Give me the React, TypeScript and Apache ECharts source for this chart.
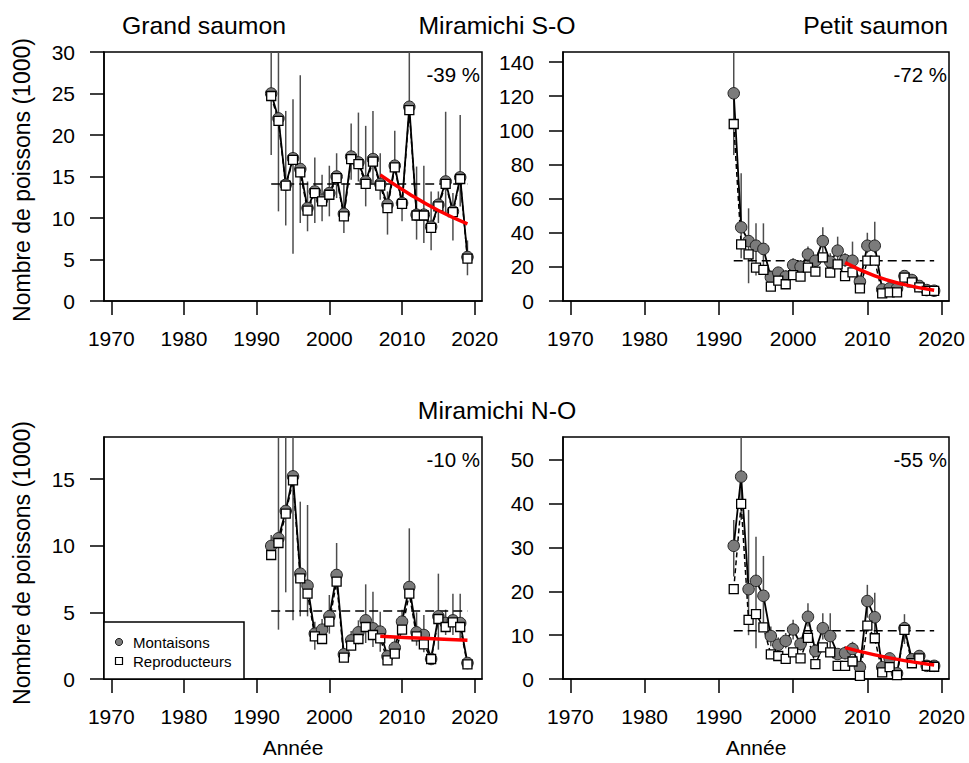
import React, { useEffect, useRef } from "react";
import * as echarts from "echarts";

const years = [1992, 1993, 1994, 1995, 1996, 1997, 1998, 1999, 2000, 2001, 2002, 2003, 2004, 2005, 2006, 2007, 2008, 2009, 2010, 2011, 2012, 2013, 2014, 2015, 2016, 2017, 2018, 2019];
const xTicks = [1970, 1980, 1990, 2000, 2010, 2020];

// Miramichi S-O, Grand saumon
const gsoMont = [25.0, 22.0, 14.0, 17.2, 15.9, 11.2, 13.2, 12.2, 13.0, 15.0, 10.5, 17.4, 16.7, 14.4, 17.1, 14.1, 11.6, 16.3, 11.8, 23.4, 10.4, 10.4, 8.95, 11.6, 14.4, 10.8, 14.9, 5.3];
const gsoRepr = [24.7, 21.7, 13.9, 17.0, 15.5, 10.9, 13.0, 12.0, 12.8, 14.8, 10.2, 17.1, 16.5, 14.1, 16.8, 13.9, 11.2, 16.1, 11.7, 23.0, 10.3, 10.3, 8.8, 11.4, 14.1, 10.7, 14.7, 5.1];
const gsoLow = [17.6, 10.8, 9.1, 5.7, 9.4, 8.4, 9.4, 9.6, 10.2, 12.4, 8.2, 14.6, 14.4, 11.4, 14.2, 12.2, 8.0, 15.4, 9.6, 21.4, 7.4, 7.0, 6.1, 9.4, 10.6, 7.3, 11.4, 3.1];
const gsoHigh = [34, 34, 22.9, 24.3, 27.2, 14.4, 17.3, 15.2, 16.3, 17.8, 14.2, 21.4, 22.7, 21.1, 22.9, 17.8, 13.2, 20.5, 12.6, 34, 16.2, 16.3, 13.2, 13.2, 22.8, 13.0, 22.4, 7.3];
const gsoMean = 14.1;
const gsoTrendYears = [2007, 2011, 2015, 2019];
const gsoTrend = [15.2, 12.9, 10.9, 9.3];

// Miramichi S-O, Petit saumon
const psoMont = [121.7, 43.2, 35.1, 32.4, 30.5, 13.9, 16.6, 14.3, 21.1, 20.1, 27.3, 23.6, 35.1, 23.0, 29.5, 24.0, 23.6, 11.3, 32.4, 32.4, 6.8, 7.4, 7.4, 14.6, 12.3, 8.8, 6.4, 6.0];
const psoRepr = [103.7, 33.2, 27.3, 19.5, 18.2, 8.4, 11.9, 9.8, 15.2, 14.3, 19.5, 17.2, 25.6, 16.6, 21.5, 14.6, 16.8, 7.4, 23.6, 23.6, 4.5, 5.1, 5.1, 13.7, 10.9, 8.0, 5.9, 5.9];
const psoLow = [85.5, 25.0, 10.4, 15, 19.9, 10, 13, 11, 17, 17, 23, 20, 28, 19, 22, 20, 14, 8.5, 28, 28, 5.5, 6, 6, 12, 10, 7.5, 5.3, 5];
const psoHigh = [160, 74.8, 54.3, 45.5, 45.5, 18, 20, 18, 25, 24, 32, 27, 43.2, 28, 37.7, 28, 34.8, 14, 40, 46.5, 8, 9, 9, 17, 14.5, 10, 7.5, 7];
const psoMean = 23.6;
const psoTrendYears = [2007, 2011, 2015, 2019];
const psoTrend = [22.5, 14.7, 9.6, 6.3];

// Miramichi N-O, Grand saumon
const gnoMont = [9.98, 10.55, 12.6, 15.2, 7.9, 7.0, 3.4, 3.7, 4.7, 7.8, 1.85, 2.9, 3.5, 4.4, 3.8, 3.55, 1.7, 2.35, 4.3, 6.9, 3.5, 3.3, 1.5, 4.7, 4.2, 4.4, 4.2, 1.2];
const gnoRepr = [9.3, 10.2, 12.4, 14.9, 7.55, 6.4, 3.2, 3.0, 4.3, 7.3, 1.6, 2.5, 3.0, 3.9, 3.3, 3.05, 1.4, 1.9, 3.7, 6.4, 3.2, 2.6, 1.5, 4.5, 3.9, 4.25, 3.9, 1.1];
const gnoLow = [9.2, 3.7, 6.5, 4.4, 4.7, 4.7, 2.2, 2.8, 3.4, 6.7, 1.4, 2.2, 2.6, 2.7, 2.4, 2.05, 1.2, 1.8, 3.5, 6.2, 2.5, 2.0, 1.1, 2.2, 3.3, 3.3, 2.9, 0.9];
const gnoHigh = [10.8, 20, 20, 20, 13.3, 13.05, 4.3, 4.5, 6.3, 10.2, 2.3, 3.6, 4.4, 7.1, 6.55, 5.05, 2.2, 3.2, 5.2, 11.3, 5.0, 4.8, 1.9, 7.9, 5.2, 6.4, 6.4, 1.5];
const gnoMean = 5.1;
const gnoTrendYears = [2007, 2011, 2015, 2019];
const gnoTrend = [3.2, 3.1, 3.0, 2.9];

// Miramichi N-O, Petit saumon
const pnoMont = [30.4, 46.2, 20.5, 22.4, 19.0, 9.8, 7.8, 8.7, 11.3, 8.0, 14.2, 6.4, 11.6, 9.8, 5.7, 5.9, 6.85, 2.7, 17.8, 14.1, 2.7, 4.7, 1.3, 11.6, 4.5, 5.25, 3.0, 3.0];
const pnoRepr = [20.5, 40.0, 13.5, 14.8, 11.8, 5.6, 5.25, 4.6, 6.1, 4.7, 9.4, 3.4, 7.2, 6.1, 3.0, 3.0, 4.0, 0.7, 12.2, 9.3, 1.5, 2.7, 0.9, 11.2, 3.6, 4.7, 3.0, 2.8];
const pnoLow = [23.4, 36.3, 10, 7.0, 12, 7.5, 6, 7, 9, 6.5, 12, 5, 9, 7, 4.5, 4.5, 5.5, 1.5, 14, 10, 1.8, 3.5, 0.8, 8, 3.5, 4.2, 2.3, 2.3];
const pnoHigh = [36.3, 60, 38.6, 32.5, 28.1, 12, 9.5, 10.5, 13.5, 9.5, 17.3, 8, 15.0, 15.0, 7, 7.5, 8.5, 4, 21.5, 19.7, 3.8, 6, 2, 14.8, 5.5, 6.5, 3.8, 3.8];
const pnoMean = 11.0;
const pnoTrendYears = [2007, 2011, 2015, 2019];
const pnoTrend = [7.15, 5.5, 4.2, 3.2];

const yTicks1 = [0, 5, 10, 15, 20, 25, 30];
const yTicks2 = [0, 20, 40, 60, 80, 100, 120, 140];
const yTicks3 = [0, 5, 10, 15];
const yTicks4 = [0, 10, 20, 30, 40, 50];

const titles = ["Grand saumon", "Miramichi S-O", "Petit saumon", "Miramichi N-O"];
const changes = ["-39 %", "-72 %", "-10 %", "-55 %"];
const yTitle = "Nombre de poissons (1000)";
const xTitle = "Année";
const legendNames = ["Montaisons", "Reproducteurs"];

const FONT = "'Liberation Sans', Arial, Helvetica, sans-serif";

const panels = [
  { mont: gsoMont, repr: gsoRepr, low: gsoLow, high: gsoHigh, mean: gsoMean, ty: gsoTrendYears, tv: gsoTrend, yMax: 30, yTicks: yTicks1 },
  { mont: psoMont, repr: psoRepr, low: psoLow, high: psoHigh, mean: psoMean, ty: psoTrendYears, tv: psoTrend, yMax: 145.9, yTicks: yTicks2 },
  { mont: gnoMont, repr: gnoRepr, low: gnoLow, high: gnoHigh, mean: gnoMean, ty: gnoTrendYears, tv: gnoTrend, yMax: 18.15, yTicks: yTicks3 },
  { mont: pnoMont, repr: pnoRepr, low: pnoLow, high: pnoHigh, mean: pnoMean, ty: pnoTrendYears, tv: pnoTrend, yMax: 55.25, yTicks: yTicks4 },
];

const gridBoxes = [
  { left: 104, top: 52, width: 378, height: 249 },
  { left: 563, top: 52, width: 386, height: 249 },
  { left: 104, top: 437, width: 378, height: 242 },
  { left: 563, top: 437, width: 386, height: 242 },
];

function txt(text: string, x: number, y: number, size: number, align: string, extra: any = {}) {
  return {
    type: "text",
    x,
    y,
    ...extra,
    style: {
      text,
      fontSize: size,
      fontFamily: FONT,
      fill: "#000",
      align,
      verticalAlign: "middle",
      textAlign: align,
      textVerticalAlign: "middle",
    },
    z: 100,
  };
}

export default function App() {
  const ref = useRef<HTMLDivElement>(null);
  useEffect(() => {
    document.body.style.margin = "0";
    if (!ref.current) return;
    const chart = echarts.init(ref.current, null, { renderer: "svg" });

    const grid = gridBoxes.map((g) => ({
      ...g,
      show: true,
      borderColor: "#000",
      borderWidth: 1.5,
      backgroundColor: "transparent",
      containLabel: false,
    }));

    const xAxis = panels.map((_, i) => ({
      type: "value",
      gridIndex: i,
      min: 1969,
      max: 2021,
      axisLine: { show: true, onZero: false, lineStyle: { color: "#000", width: 1.5 } },
      axisTick: { show: true, inside: false, length: 14, customValues: xTicks, lineStyle: { color: "#000", width: 1.5 } },
      axisLabel: {
        customValues: xTicks,
        fontSize: 21,
        color: "#000",
        fontFamily: FONT,
        margin: 27,
        formatter: (v: number) => String(v),
      },
      splitLine: { show: false },
    }));

    const yAxis = panels.map((p, i) => ({
      type: "value",
      gridIndex: i,
      min: 0,
      max: p.yMax,
      axisLine: { show: true, onZero: false, lineStyle: { color: "#000", width: 1.5 } },
      axisTick: { show: true, inside: false, length: 14, customValues: p.yTicks, lineStyle: { color: "#000", width: 1.5 } },
      axisLabel: {
        customValues: p.yTicks,
        fontSize: 21,
        color: "#000",
        fontFamily: FONT,
        margin: 29,
        formatter: (v: number) => String(v),
      },
      splitLine: { show: false },
    }));

    const series: any[] = [];
    panels.forEach((p, i) => {
      series.push({
        type: "custom",
        xAxisIndex: i,
        yAxisIndex: i,
        silent: true,
        z: 1,
        data: years.map((yr, k) => [yr, p.low[k], p.high[k]]),
        renderItem: (params: any, api: any) => {
          const x = api.value(0);
          const a = api.coord([x, api.value(1)]);
          const b = api.coord([x, api.value(2)]);
          const cs = params.coordSys;
          const top = Math.max(b[1], cs.y);
          const bot = Math.min(a[1], cs.y + cs.height);
          return {
            type: "line",
            shape: { x1: a[0], y1: bot, x2: b[0], y2: top },
            style: { stroke: "#4d4d4d", lineWidth: 1.5 },
          };
        },
      });
      series.push({
        type: "line",
        xAxisIndex: i,
        yAxisIndex: i,
        silent: true,
        z: 2,
        symbol: "none",
        data: [[years[0], p.mean], [years[years.length - 1], p.mean]],
        lineStyle: { color: "#000", width: 1.5, type: [9, 5] },
      });
      series.push({
        type: "line",
        xAxisIndex: i,
        yAxisIndex: i,
        silent: true,
        z: 3,
        symbol: "none",
        data: years.map((yr, k) => [yr, p.mont[k]]),
        lineStyle: { color: "#000", width: 1.8 },
      });
      series.push({
        type: "line",
        xAxisIndex: i,
        yAxisIndex: i,
        silent: true,
        z: 3,
        symbol: "none",
        data: years.map((yr, k) => [yr, p.repr[k]]),
        lineStyle: { color: "#000", width: 1.5, type: [5, 3] },
      });
      series.push({
        name: legendNames[0],
        type: "scatter",
        xAxisIndex: i,
        yAxisIndex: i,
        silent: true,
        z: 4,
        symbol: "circle",
        symbolSize: 11.5,
        data: years.map((yr, k) => [yr, p.mont[k]]),
        itemStyle: { color: "#7b7b7b", borderColor: "#222", borderWidth: 1, opacity: 1 },
      });
      series.push({
        name: legendNames[1],
        type: "scatter",
        xAxisIndex: i,
        yAxisIndex: i,
        silent: true,
        z: 5,
        symbol: "rect",
        symbolSize: 9,
        data: years.map((yr, k) => [yr, p.repr[k]]),
        itemStyle: { color: "#fff", borderColor: "#000", borderWidth: 1.3, opacity: 1 },
      });
      series.push({
        type: "line",
        xAxisIndex: i,
        yAxisIndex: i,
        silent: true,
        z: 6,
        symbol: "none",
        smooth: true,
        data: p.ty.map((yr, k) => [yr, p.tv[k]]),
        lineStyle: { color: "#ff0000", width: 3.5 },
      });
    });

    const graphic: any[] = [
      txt(titles[0], 122, 25, 24.8, "left"),
      txt(titles[1], 497, 25, 24.8, "center"),
      txt(titles[2], 948, 25, 24.8, "right"),
      txt(titles[3], 497, 410, 24.8, "center"),
      txt(changes[0], 480, 74, 20.5, "right"),
      txt(changes[1], 947, 74, 20.5, "right"),
      txt(changes[2], 480, 459, 20.5, "right"),
      txt(changes[3], 947, 459, 20.5, "right"),
      txt(yTitle, 22, 180, 23, "center", { rotation: Math.PI / 2 }),
      txt(yTitle, 22, 563, 23, "center", { rotation: Math.PI / 2 }),
      txt(xTitle, 293, 747, 21, "center"),
      txt(xTitle, 756, 747, 21, "center"),
      {
        type: "rect",
        shape: { x: 104, y: 622, width: 140, height: 57 },
        style: { fill: "#fff", stroke: "#000", lineWidth: 1.5 },
        z: 90,
      },
      {
        type: "circle",
        shape: { cx: 119, cy: 642, r: 3.6 },
        style: { fill: "#7b7b7b", stroke: "#222", lineWidth: 1 },
        z: 100,
      },
      {
        type: "rect",
        shape: { x: 115.5, y: 657.5, width: 7, height: 7 },
        style: { fill: "#fff", stroke: "#000", lineWidth: 1.2 },
        z: 100,
      },
      txt(legendNames[0], 133, 642, 15, "left"),
      txt(legendNames[1], 133, 661, 15, "left"),
    ];

    chart.setOption({
      animation: false,
      backgroundColor: "#fff",
      textStyle: { fontFamily: FONT },
      grid,
      xAxis,
      yAxis,
      series,
      graphic,
    });
    return () => chart.dispose();
  }, []);
  return <div ref={ref} style={{ width: 969, height: 763 }} />;
}
